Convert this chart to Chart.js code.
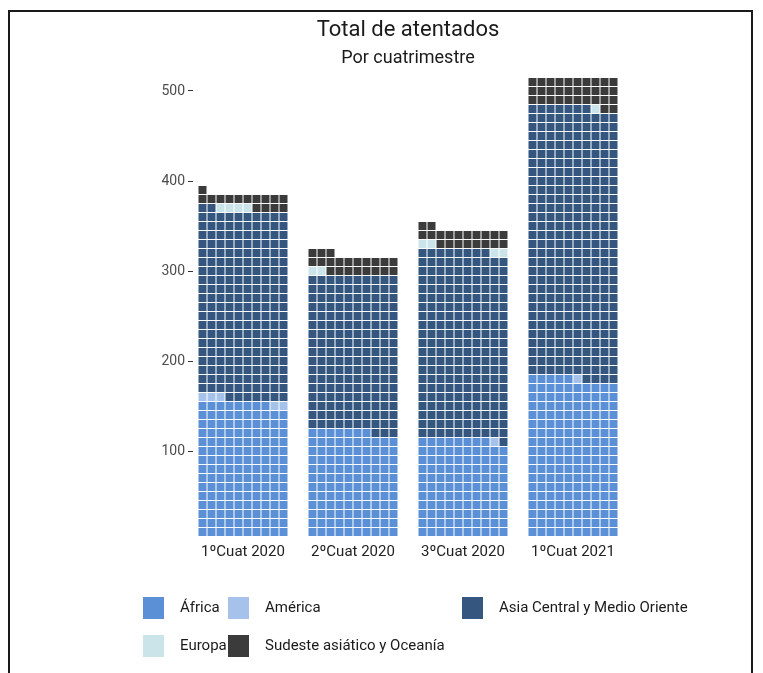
<!DOCTYPE html>
<html>
<head>
<meta charset="utf-8">
<script src="https://cdn.jsdelivr.net/npm/chart.js@4"></script>
<style>
  html, body { margin: 0; padding: 0; background: #fff; }
  #wrap { position: relative; width: 763px; height: 673px; overflow: hidden; }
  #frame { position: absolute; left: 8px; top: 10px; width: 741px; height: 700px;
           border-top: 2px solid #1a1a1a; border-left: 2px solid #1a1a1a; border-right: 2px solid #1a1a1a; }
  canvas { position: absolute; left: 0; top: 0; }
</style>
</head>
<body>
<div id="wrap">
  <div id="frame"></div>
  <canvas id="waffle" width="763" height="673"></canvas>
</div>
<script>
// data (one square = one attack, 10 squares per row)
const quarters = ["1ºCuat 2020", "2ºCuat 2020", "3ºCuat 2020", "1ºCuat 2021"];
const regions = ["África", "América", "Asia Central y Medio Oriente", "Europa", "Sudeste asiático y Oceanía"];
const africa = [148, 117, 108, 175];
const america = [5, 0, 1, 1];
const asia = [209, 173, 209, 301];
const europa = [4, 2, 4, 1];
const sudeste = [15, 21, 20, 32];
const yTicks = [100, 200, 300, 400, 500];

const colors = ["#5b8fd6", "#a6c1ea", "#35567f", "#cbe4ea", "#3b3b3b"];
const series = [africa, america, asia, europa, sudeste];

const perRow = 10;
const groupStep = 110 / 9; // column width + gap, in squares

// build waffle squares, filling each column left to right, row by row
const datasets = regions.map((name, i) => ({
  label: name,
  data: [],
  backgroundColor: colors[i],
  pointBackgroundColor: colors[i],
  pointStyle: "rect",
  pointRadius: 5.66,
  pointHoverRadius: 5.66,
  pointBorderWidth: 0,
  borderWidth: 0,
}));
quarters.forEach((q, g) => {
  let n = 0;
  series.forEach((vals, i) => {
    for (let k = 0; k < vals[g]; k++) {
      const row = Math.floor(n / perRow) + 1;
      const col = n % perRow;
      datasets[i].data.push({ x: g * groupStep + col + 0.5, y: row * 10 });
      n++;
    }
  });
});

// legend drawn like the ggplot guide
const legendItems = [
  { i: 0, x: 143, y: 597 },
  { i: 1, x: 228, y: 597 },
  { i: 2, x: 462, y: 597 },
  { i: 3, x: 143, y: 635 },
  { i: 4, x: 228, y: 635 },
];
const legendPlugin = {
  id: "waffleLegend",
  afterDraw(chart) {
    const ctx = chart.ctx;
    ctx.save();
    ctx.font = "15px Roboto";
    ctx.textBaseline = "middle";
    legendItems.forEach((it) => {
      ctx.fillStyle = colors[it.i];
      ctx.fillRect(it.x, it.y, 21, 22);
      ctx.fillStyle = "#1a1a1a";
      ctx.fillText(regions[it.i], it.x + 37, it.y + 11);
    });
    ctx.restore();
  },
};

new Chart(document.getElementById("waffle"), {
  type: "scatter",
  data: { datasets: datasets },
  plugins: [legendPlugin],
  options: {
    responsive: false,
    animation: false,
    events: [],
    layout: { padding: { left: 143, right: 140, top: 8, bottom: 102 } },
    plugins: {
      legend: { display: false },
      tooltip: { enabled: false },
      title: {
        display: true,
        text: "Total de atentados",
        fullSize: false,
        color: "#1a1a1a",
        font: { family: "Roboto", size: 22, weight: "normal" },
        padding: { top: 8.8, bottom: 1 },
      },
      subtitle: {
        display: true,
        text: "Por cuatrimestre",
        fullSize: false,
        color: "#1a1a1a",
        font: { family: "Roboto", size: 18, weight: "normal" },
        padding: { top: 3, bottom: 4.2 },
      },
    },
    scales: {
      x: {
        type: "linear",
        min: -5 / 9,
        max: 3 * groupStep + perRow + 5 / 9,
        grid: { display: false, drawTicks: false },
        border: { display: false },
        afterFit: (s) => { s.height = 30; },
        afterBuildTicks: (s) => {
          s.ticks = quarters.map((q, g) => ({ value: g * groupStep + perRow / 2 }));
        },
        ticks: {
          autoSkip: false,
          maxRotation: 0,
          color: "#222",
          font: { family: "Roboto", size: 15 },
          padding: 2.5,
          callback: (v, idx) => quarters[idx],
        },
      },
      y: {
        type: "linear",
        min: 0,
        max: 520,
        grid: { drawOnChartArea: false, drawTicks: true, tickLength: 5, color: "#333" },
        border: { display: false },
        afterFit: (s) => { s.width = 50; },
        afterBuildTicks: (s) => { s.ticks = yTicks.map((v) => ({ value: v })); },
        ticks: {
          color: "#4d4d4d",
          font: { family: "Roboto", size: 14 },
          padding: 3,
        },
      },
    },
  },
});
</script>
</body>
</html>
